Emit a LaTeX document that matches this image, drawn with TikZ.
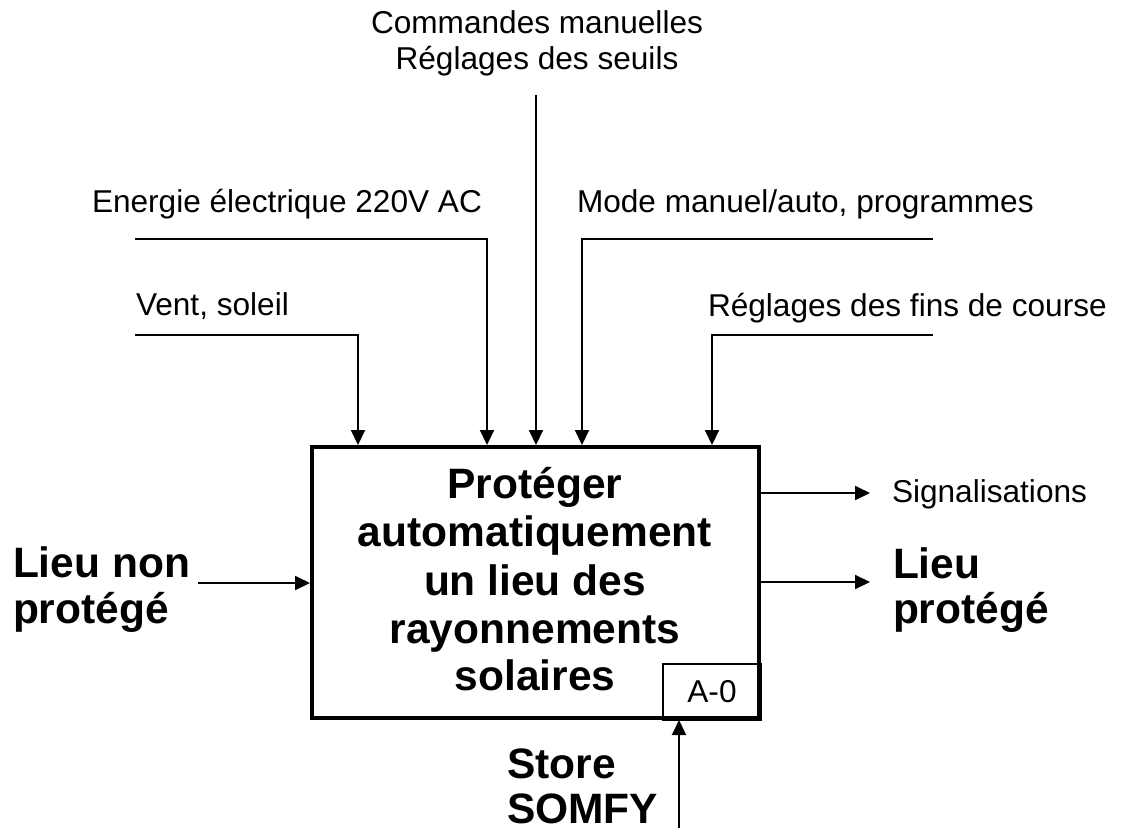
\documentclass[tikz,border=0pt]{standalone}
\usepackage{fontspec}
\setmainfont{Liberation Sans}
\usetikzlibrary{arrows.meta}
\begin{document}
\begin{tikzpicture}[x=0.5pt,y=-0.5pt,
  lbl/.style={font=\fontsize{15.8}{18}\selectfont, inner sep=0, outer sep=0},
  big/.style={font=\fontsize{21.25}{24}\selectfont\bfseries, inner sep=0, outer sep=0},
  conn/.style={line width=1pt, -{Triangle[length=7.5pt,width=7pt]}},
]
\useasboundingbox (0,0) rectangle (1124,836);

% main box
\node[draw, line width=2pt, minimum width=223.5pt, minimum height=135.5pt, inner sep=0] (box) at (535.5,582.5) {};
\node[draw, line width=1pt, minimum width=49pt, minimum height=28pt, inner sep=0, anchor=south east, lbl] (a0) at (box.south east) {A-0};

% box text
\node[big, anchor=base] (t1) at (535,498) {Protéger};
\node[big, anchor=base] (t2) at (535,546) {automatiquement};
\node[big, anchor=base] (t3) at (535,595) {un lieu des};
\node[big, anchor=base] (t4) at (535,643) {rayonnements};
\node[big, anchor=base] (t5) at (535,690) {solaires};

% control labels
\node[lbl, anchor=base] (cm1) at (537,33) {Commandes manuelles};
\node[lbl, anchor=base] (cm2) at (537,69) {Réglages des seuils};
\node[lbl, anchor=base west] (en) at (92,212) {Energie électrique 220V AC};
\node[lbl, anchor=base west] (mo) at (577,212) {Mode manuel/auto, programmes};
\node[lbl, anchor=base west] (ve) at (136,315) {Vent, soleil};
\node[lbl, anchor=base west] (rf) at (708,316) {Réglages des fins de course};

% outputs / inputs / mechanism labels
\node[lbl, anchor=base west] (sig) at (892,502) {Signalisations};
\node[big, anchor=base west] (ln1) at (13,577) {Lieu non};
\node[big, anchor=base west] (ln2) at (13,623) {protégé};
\node[big, anchor=base west] (lp1) at (893,578) {Lieu};
\node[big, anchor=base west] (lp2) at (893,623) {protégé};
\node[big, anchor=base west] (st1) at (507,778) {Store};
\node[big, anchor=base west] (st2) at (507,823) {SOMFY};

% connector start/end coordinates
\coordinate (cmS) at (536,95);
\coordinate (enS) at (135,239);
\coordinate (moS) at (933,239);
\coordinate (veS) at (135,335);
\coordinate (rfS) at (933,335);
\coordinate (inS) at (198,583);
\coordinate (sigE) at (870,493);
\coordinate (lpE) at (870,582);
\coordinate (meS) at (679,828);

% controls
\draw[conn] (cmS) -- (cmS |- box.north);
\draw[conn] (enS) -| (487,0 |- box.north);
\draw[conn] (moS) -| (582,0 |- box.north);
\draw[conn] (veS) -| (358,0 |- box.north);
\draw[conn] (rfS) -| (712,0 |- box.north);

% input
\draw[conn] (inS) -- (inS -| box.west);
% outputs
\draw[conn] (sigE -| box.east) -- (sigE);
\draw[conn] (lpE -| box.east) -- (lpE);
% mechanism
\draw[conn] (meS) -- (meS |- box.south);
\end{tikzpicture}
\end{document}
